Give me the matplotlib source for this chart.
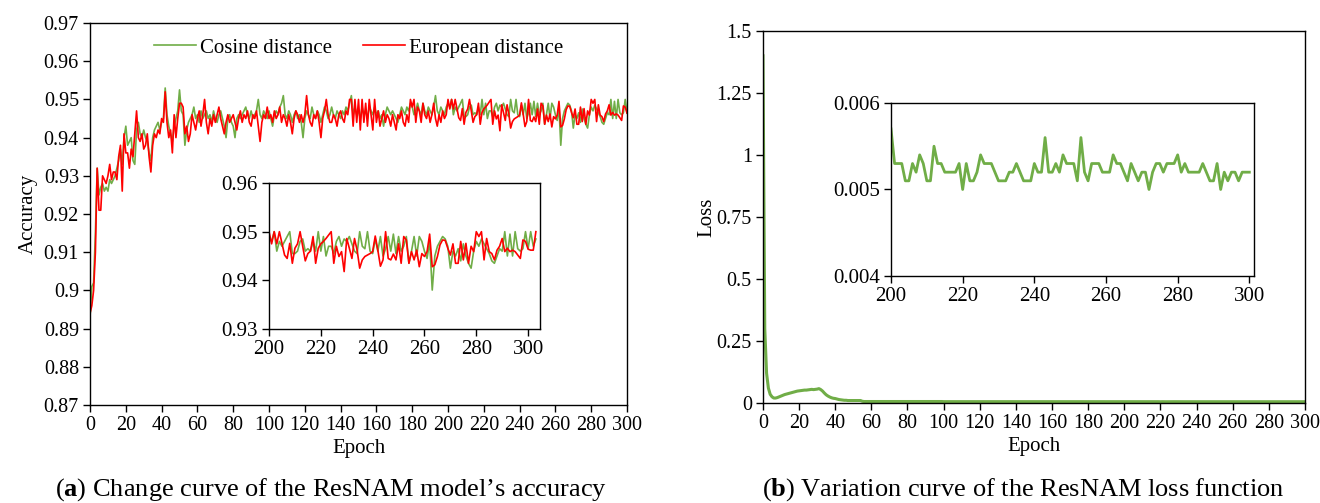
import numpy as np
import matplotlib
matplotlib.use('Agg')
from matplotlib import pyplot as plt
from matplotlib.ticker import FuncFormatter

plt.rcParams['font.family'] = ['Liberation Serif', 'DejaVu Serif']
plt.rcParams['mathtext.fontset'] = 'custom'
plt.rcParams['mathtext.rm'] = 'Liberation Serif'
plt.rcParams['mathtext.bf'] = 'Liberation Serif:bold'

# accuracy, epochs 0-199 (main plot)
cosine_acc = [
    0.893, 0.901, 0.902, 0.915, 0.932, 0.925, 0.927, 0.928, 0.926, 0.927,
    0.926, 0.929, 0.928, 0.929, 0.930, 0.932, 0.934, 0.937, 0.933, 0.940,
    0.943, 0.938, 0.939, 0.940, 0.934, 0.933, 0.942, 0.944, 0.941, 0.940,
    0.942, 0.940, 0.939, 0.936, 0.934, 0.940, 0.942, 0.943, 0.944, 0.942,
    0.944, 0.945, 0.953, 0.946, 0.943, 0.941, 0.939, 0.943, 0.945, 0.947,
    0.9525, 0.947, 0.946, 0.938, 0.942, 0.944, 0.945, 0.946, 0.948, 0.945,
    0.946, 0.944, 0.947, 0.945, 0.946, 0.947, 0.945, 0.946, 0.944, 0.947,
    0.945, 0.944, 0.946, 0.947, 0.945, 0.943, 0.940, 0.945, 0.946, 0.944,
    0.943, 0.940, 0.945, 0.946, 0.945, 0.946, 0.947, 0.948, 0.946, 0.945,
    0.947, 0.945, 0.946, 0.947, 0.950, 0.946, 0.945, 0.947, 0.946, 0.945,
    0.947, 0.945, 0.943, 0.946, 0.947, 0.946, 0.948, 0.949, 0.951, 0.946,
    0.945, 0.947, 0.946, 0.944, 0.946, 0.947, 0.945, 0.946, 0.944, 0.940,
    0.945, 0.947, 0.946, 0.945, 0.948, 0.946, 0.945, 0.947, 0.946, 0.944,
    0.946, 0.948, 0.947, 0.945, 0.946, 0.948, 0.946, 0.945, 0.947, 0.946,
    0.945, 0.947, 0.946, 0.948, 0.947, 0.949, 0.951, 0.946, 0.948, 0.946,
    0.947, 0.945, 0.948, 0.946, 0.947, 0.945, 0.948, 0.947, 0.946, 0.948,
    0.946, 0.947, 0.945, 0.946, 0.943, 0.946, 0.948, 0.947, 0.946, 0.947,
    0.946, 0.945, 0.944, 0.946, 0.948, 0.947, 0.946, 0.948, 0.947, 0.949,
    0.948, 0.946, 0.947, 0.949, 0.947, 0.946, 0.949, 0.947, 0.946, 0.948,
    0.947, 0.946, 0.948, 0.951, 0.947, 0.946, 0.948, 0.947, 0.946, 0.948,
]
european_acc = [
    0.894, 0.896, 0.900, 0.910, 0.932, 0.921, 0.921, 0.930, 0.929, 0.928,
    0.930, 0.933, 0.929, 0.931, 0.931, 0.929, 0.935, 0.938, 0.926, 0.941,
    0.936, 0.936, 0.932, 0.937, 0.935, 0.941, 0.947, 0.940, 0.939, 0.941,
    0.937, 0.938, 0.941, 0.935, 0.931, 0.938, 0.941, 0.940, 0.942, 0.941,
    0.945, 0.944, 0.952, 0.944, 0.940, 0.942, 0.936, 0.946, 0.940, 0.945,
    0.949, 0.949, 0.948, 0.941, 0.943, 0.939, 0.941, 0.946, 0.944, 0.942,
    0.945, 0.947, 0.943, 0.946, 0.950, 0.944, 0.941, 0.945, 0.943, 0.946,
    0.944, 0.946, 0.948, 0.945, 0.943, 0.941, 0.944, 0.946, 0.944, 0.945,
    0.946, 0.944, 0.942, 0.945, 0.947, 0.944, 0.946, 0.945, 0.947, 0.944,
    0.943, 0.946, 0.945, 0.947, 0.943, 0.939, 0.944, 0.946, 0.945, 0.948,
    0.945, 0.946, 0.944, 0.947, 0.945, 0.946, 0.948, 0.944, 0.946, 0.945,
    0.943, 0.946, 0.944, 0.941, 0.945, 0.947, 0.946, 0.944, 0.946, 0.944,
    0.946, 0.951, 0.946, 0.944, 0.943, 0.946, 0.945, 0.947, 0.944, 0.940,
    0.945, 0.947, 0.950, 0.946, 0.944, 0.944, 0.946, 0.945, 0.943, 0.946,
    0.947, 0.945, 0.944, 0.947, 0.946, 0.950, 0.950, 0.943, 0.950, 0.944,
    0.950, 0.942, 0.950, 0.944, 0.949, 0.943, 0.950, 0.946, 0.942, 0.950,
    0.944, 0.947, 0.943, 0.945, 0.947, 0.944, 0.946, 0.945, 0.943, 0.946,
    0.944, 0.942, 0.946, 0.945, 0.947, 0.944, 0.943, 0.946, 0.944, 0.950,
    0.948, 0.950, 0.944, 0.948, 0.947, 0.944, 0.949, 0.946, 0.945, 0.947,
    0.944, 0.946, 0.949, 0.945, 0.943, 0.946, 0.944, 0.947, 0.945, 0.946,
]

# accuracy, epochs 200-303 (inset, also the tail of the main plot)
cosine_tail = [
    0.949, 0.948, 0.950, 0.946, 0.948, 0.947, 0.948, 0.949, 0.950, 0.9455,
    0.9455, 0.946, 0.948, 0.9485, 0.946, 0.9465, 0.946, 0.948, 0.946, 0.950,
    0.946, 0.949, 0.945, 0.947, 0.947, 0.9455, 0.948, 0.949, 0.947, 0.9485,
    0.948, 0.949, 0.9475, 0.946, 0.9455, 0.950, 0.947, 0.9465, 0.950, 0.946,
    0.9455, 0.9485, 0.946, 0.949, 0.945, 0.9465, 0.949, 0.946, 0.9495, 0.9455,
    0.949, 0.946, 0.947, 0.949, 0.9435, 0.946, 0.949, 0.945, 0.949, 0.948,
    0.946, 0.9445, 0.948, 0.938, 0.945, 0.947, 0.948, 0.949, 0.9485, 0.947,
    0.9425, 0.946, 0.945, 0.9465, 0.944, 0.9475, 0.945, 0.9435, 0.9425, 0.946,
    0.948, 0.947, 0.9485, 0.9475, 0.9465, 0.9455, 0.944, 0.9435, 0.945, 0.9465,
    0.946, 0.950, 0.945, 0.9495, 0.945, 0.950, 0.9465, 0.946, 0.9465, 0.950,
    0.9465, 0.950, 0.947, 0.9485,
]
european_tail = [
    0.950, 0.9475, 0.950, 0.9475, 0.950, 0.9476, 0.9452, 0.9445, 0.9476, 0.9435,
    0.9466, 0.9475, 0.950, 0.947, 0.944, 0.9455, 0.946, 0.949, 0.9435, 0.9466,
    0.9475, 0.948, 0.9486, 0.9493, 0.950, 0.9435, 0.947, 0.9449, 0.9459, 0.9418,
    0.9486, 0.9466, 0.9445, 0.9486, 0.9462, 0.9425, 0.9442, 0.9449, 0.9452, 0.9455,
    0.9459, 0.9491, 0.9462, 0.9429, 0.9442, 0.950, 0.9445, 0.9442, 0.9454, 0.9442,
    0.9475, 0.9435, 0.949, 0.9483, 0.9435, 0.9459, 0.9442, 0.9462, 0.9428, 0.9455,
    0.9449, 0.9459, 0.9495, 0.9428, 0.9432, 0.9449, 0.9473, 0.9483, 0.9482, 0.9466,
    0.9452, 0.9475, 0.9435, 0.9435, 0.948, 0.9442, 0.9476, 0.9435, 0.947, 0.9459,
    0.950, 0.949, 0.950, 0.9442, 0.9486, 0.9459, 0.9455, 0.9442, 0.9462, 0.947,
    0.9486, 0.9459, 0.9466, 0.9459, 0.9462, 0.9459, 0.9452, 0.9445, 0.9483, 0.948,
    0.9464, 0.9462, 0.9462, 0.950,
]

# loss, epochs 0-199
loss_head = [
    1.40, 0.30, 0.12, 0.06, 0.035, 0.025, 0.020, 0.020, 0.022, 0.025,
    0.028, 0.031, 0.034, 0.036, 0.038, 0.040, 0.042, 0.044, 0.046, 0.048,
    0.049, 0.050, 0.051, 0.052, 0.052, 0.053, 0.054, 0.055, 0.054, 0.055,
    0.056, 0.058, 0.054, 0.048, 0.040, 0.033, 0.028, 0.024, 0.021, 0.019,
    0.018, 0.016, 0.014, 0.013, 0.012, 0.011, 0.011, 0.010, 0.010, 0.010,
    0.010, 0.010, 0.010, 0.010, 0.010, 0.007, 0.006, 0.006, 0.006, 0.006,
    0.006, 0.006, 0.006, 0.006, 0.006, 0.006, 0.006, 0.006, 0.006, 0.006,
    0.006, 0.006, 0.006, 0.006, 0.006, 0.006, 0.006, 0.006, 0.006, 0.006,
    0.006, 0.006, 0.006, 0.006, 0.006, 0.006, 0.006, 0.006, 0.006, 0.006,
    0.006, 0.006, 0.006, 0.006, 0.006, 0.006, 0.006, 0.006, 0.006, 0.006,
    0.0055, 0.0055, 0.0055, 0.0055, 0.0055, 0.0055, 0.0055, 0.0055, 0.0055, 0.0055,
    0.0055, 0.0055, 0.0055, 0.0055, 0.0055, 0.0055, 0.0055, 0.0055, 0.0055, 0.0055,
    0.0055, 0.0055, 0.0055, 0.0055, 0.0055, 0.0055, 0.0055, 0.0055, 0.0055, 0.0055,
    0.0055, 0.0055, 0.0055, 0.0055, 0.0055, 0.0055, 0.0055, 0.0055, 0.0055, 0.0055,
    0.0055, 0.0055, 0.0055, 0.0055, 0.0055, 0.0055, 0.0055, 0.0055, 0.0055, 0.0055,
    0.0053, 0.0053, 0.0053, 0.0053, 0.0053, 0.0053, 0.0053, 0.0053, 0.0053, 0.0053,
    0.0053, 0.0053, 0.0053, 0.0053, 0.0053, 0.0053, 0.0053, 0.0053, 0.0053, 0.0053,
    0.0053, 0.0053, 0.0053, 0.0053, 0.0053, 0.0053, 0.0053, 0.0053, 0.0053, 0.0053,
    0.0053, 0.0053, 0.0053, 0.0053, 0.0053, 0.0053, 0.0053, 0.0053, 0.0053, 0.0053,
    0.0053, 0.0053, 0.0053, 0.0053, 0.0053, 0.0053, 0.0053, 0.0053, 0.0053, 0.0053,
]
# loss, epochs 200-300 (inset)
loss_tail = [
    0.0057, 0.0053, 0.0053, 0.0053, 0.0051, 0.0051, 0.0053, 0.0052, 0.0054, 0.0053,
    0.0051, 0.0051, 0.0055, 0.0053, 0.0053, 0.0052, 0.0052, 0.0052, 0.0052, 0.0053,
    0.0050, 0.0053, 0.0051, 0.0051, 0.0052, 0.0054, 0.0053, 0.0053, 0.0053, 0.0052,
    0.0051, 0.0051, 0.0051, 0.0052, 0.0052, 0.0053, 0.0052, 0.0051, 0.0051, 0.0051,
    0.0053, 0.0052, 0.0052, 0.0056, 0.0052, 0.0052, 0.0053, 0.0052, 0.0054, 0.0053,
    0.0053, 0.0053, 0.0051, 0.0056, 0.0052, 0.0051, 0.0053, 0.0053, 0.0053, 0.0052,
    0.0052, 0.0052, 0.0054, 0.0053, 0.0053, 0.0052, 0.0051, 0.0053, 0.0052, 0.0051,
    0.0052, 0.0052, 0.0050, 0.0052, 0.0053, 0.0053, 0.0052, 0.0053, 0.0053, 0.0053,
    0.0054, 0.0052, 0.0053, 0.0052, 0.0052, 0.0052, 0.0052, 0.0053, 0.0052, 0.0051,
    0.0051, 0.0053, 0.0050, 0.0052, 0.0051, 0.0052, 0.0052, 0.0051, 0.0052, 0.0052,
    0.0052,
]

green = '#70AD47'
red = '#FF0000'
fmt = FuncFormatter(lambda v, p: '{:g}'.format(round(v, 6)))


def style(ax, size):
    ax.tick_params(direction='out', length=5, width=1, labelsize=size, pad=3)
    for s in ax.spines.values():
        s.set_linewidth(1)
    ax.yaxis.set_major_formatter(fmt)


fig = plt.figure(figsize=(13.2, 5.03), dpi=100)

# (a) accuracy
ep_main = np.arange(0, 301)
ep_tail = np.arange(200, 304)
cos_main = cosine_acc + cosine_tail[:101]
eur_main = european_acc + european_tail[:101]

ax1 = fig.add_axes([0.0682, 0.1948, 0.4068, 0.7594])
ax1.plot(ep_main, cos_main, color=green, lw=1.2, label='Cosine distance')
ax1.plot(ep_main, eur_main, color=red, lw=1.2, label='European distance')
ax1.set_xlim(0, 300)
ax1.set_ylim(0.87, 0.97)
ax1.set_xticks(np.arange(0, 301, 20))
ax1.set_yticks(np.arange(0.87, 0.9701, 0.01))
style(ax1, 14.5)
ax1.set_xlabel('Epoch', fontsize=15, labelpad=3)
ax1.set_ylabel('Accuracy', fontsize=15, labelpad=4)
ax1.legend(loc='upper center', ncol=2, frameon=False, fontsize=15,
           handlelength=2, handletextpad=0.2, columnspacing=1.5,
           bbox_to_anchor=(0.5, 1.01))

ins1 = fig.add_axes([0.2038, 0.3459, 0.2053, 0.2903])
ins1.plot(ep_tail, cosine_tail, color=green, lw=1.2)
ins1.plot(ep_tail, european_tail, color=red, lw=1.2)
ins1.set_xlim(200, 304.6)
ins1.set_ylim(0.93, 0.96)
ins1.set_xticks(np.arange(200, 301, 20))
ins1.set_yticks([0.93, 0.94, 0.95, 0.96])
style(ins1, 15)

# (b) loss
loss_main = loss_head + loss_tail
ax2 = fig.add_axes([0.578, 0.1988, 0.4106, 0.7396])
ax2.plot(ep_main, loss_main, color=green, lw=2.2)
ax2.set_xlim(0, 300)
ax2.set_ylim(0, 1.5)
ax2.set_xticks(np.arange(0, 301, 20))
ax2.set_yticks([0, 0.25, 0.5, 0.75, 1, 1.25, 1.5])
style(ax2, 14.5)
ax2.set_xlabel('Epoch', fontsize=15, labelpad=3)
ax2.set_ylabel('Loss', fontsize=15, labelpad=0)

ins2 = fig.add_axes([0.675, 0.4513, 0.275, 0.344])
ins2.plot(np.arange(200, 301), loss_tail, color=green, lw=2)
ins2.set_xlim(200, 301.3)
ins2.set_ylim(0.004, 0.006)
ins2.set_xticks(np.arange(200, 301, 20))
ins2.set_yticks([0.004, 0.005, 0.006])
style(ins2, 15)

fig.text(0.251, 0.015, r"($\mathbf{a}$) Change curve of the ResNAM model’s accuracy",
         ha='center', fontsize=19)
fig.text(0.775, 0.015, r"($\mathbf{b}$) Variation curve of the ResNAM loss function",
         ha='center', fontsize=19)

fig.savefig('out.png', dpi=100)
